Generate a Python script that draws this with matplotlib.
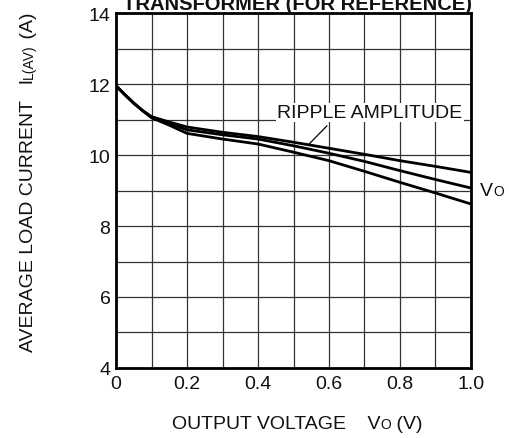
import numpy as np
from matplotlib import pyplot as plt

plt.rcParams['font.family'] = ['Liberation Sans', 'DejaVu Sans']

# output voltage (V)
vo = [0, 0.025, 0.05, 0.075, 0.1, 0.15, 0.2, 0.3, 0.4, 0.5, 0.6, 0.7, 0.8, 0.9, 1.0]
# average load current (A), three ripple amplitudes
il_top = [11.95, 11.70, 11.46, 11.25, 11.08, 10.93, 10.79, 10.64, 10.52, 10.36, 10.19, 10.02, 9.84, 9.68, 9.51]
il_mid = [11.95, 11.70, 11.46, 11.25, 11.07, 10.89, 10.71, 10.57, 10.45, 10.26, 10.05, 9.82, 9.56, 9.31, 9.07]
il_bot = [11.95, 11.70, 11.46, 11.25, 11.05, 10.84, 10.61, 10.45, 10.31, 10.08, 9.84, 9.54, 9.23, 8.93, 8.62]

x_ticks = [0, 0.2, 0.4, 0.6, 0.8, 1.0]
x_labels = ['0', '0.2', '0.4', '0.6', '0.8', '1.0']
y_ticks = [4, 6, 8, 10, 12, 14]

FS = 14
SUB = 10


def text_runs(fig, x, y, runs, rotation=0):
    # draw pieces of text one after another on a shared baseline
    r = fig.canvas.get_renderer()
    texts = []
    widths = []
    for s, size in runs:
        t = fig.text(0, 0, s, fontsize=size, rotation=rotation, rotation_mode='anchor',
                     ha='left', va='baseline', color='#111111')
        bb = t.get_window_extent(renderer=r)
        widths.append(bb.height if rotation else bb.width)
        texts.append(t)
    W, H = fig.bbox.width, fig.bbox.height
    total = sum(widths)
    if rotation:
        pos = y * H - total / 2
        for t, w in zip(texts, widths):
            t.set_position((x, pos / H))
            pos += w
    else:
        pos = x * W - total / 2
        for t, w in zip(texts, widths):
            t.set_position((pos / W, y))
            pos += w


fig = plt.figure(figsize=(5.1, 4.39), dpi=100)
ax = fig.add_axes([0.2275, 0.1595, 0.696, 0.8085])

for y in (il_top, il_mid, il_bot):
    ax.plot(vo, y, color='black', lw=2.0, solid_capstyle='butt', zorder=3)

ax.set_xlim(0, 1.0)
ax.set_ylim(4, 14)
ax.set_xticks(x_ticks)
ax.set_xticklabels(x_labels)
ax.set_yticks(y_ticks)
ax.set_xticks(np.arange(0, 1.01, 0.1), minor=True)
ax.set_yticks(np.arange(4, 14.1, 1), minor=True)
ax.grid(which='both', color='#333333', lw=0.9)
ax.tick_params(which='both', length=0, labelsize=FS, colors='#111111')
ax.tick_params(axis='x', pad=5)
ax.tick_params(axis='y', pad=4)
for s in ax.spines.values():
    s.set_linewidth(2.0)

ax.text(0.715, 11.2, 'RIPPLE AMPLITUDE', fontsize=FS, color='#111111',
        va='center', ha='center', zorder=4,
        bbox=dict(facecolor='white', edgecolor='none', pad=1))
ax.plot([0.594, 0.544], [10.82, 10.31], color='black', lw=0.9, zorder=4)

fig.text(0.583, 0.977, 'TRANSFORMER (FOR REFERENCE)', fontsize=14.5,
         fontweight='bold', ha='center', va='baseline', color='#111111')

fig.canvas.draw()
W, H = fig.bbox.width, fig.bbox.height
vx, vy = ax.transData.transform((1.0, 9.05))
text_runs(fig, (vx + 10 + 11) / W, (vy - 6) / H, [('V', FS), ('O', SUB)])
text_runs(fig, 0.583, 0.022, [('OUTPUT VOLTAGE    V', FS), ('O', SUB), (' (V)', FS)])
text_runs(fig, 0.064, 0.585, [('AVERAGE LOAD CURRENT   I', FS), ('L(AV)', SUB), (' (A)', FS)],
          rotation=90)

plt.savefig('out.png')
plt.close()
